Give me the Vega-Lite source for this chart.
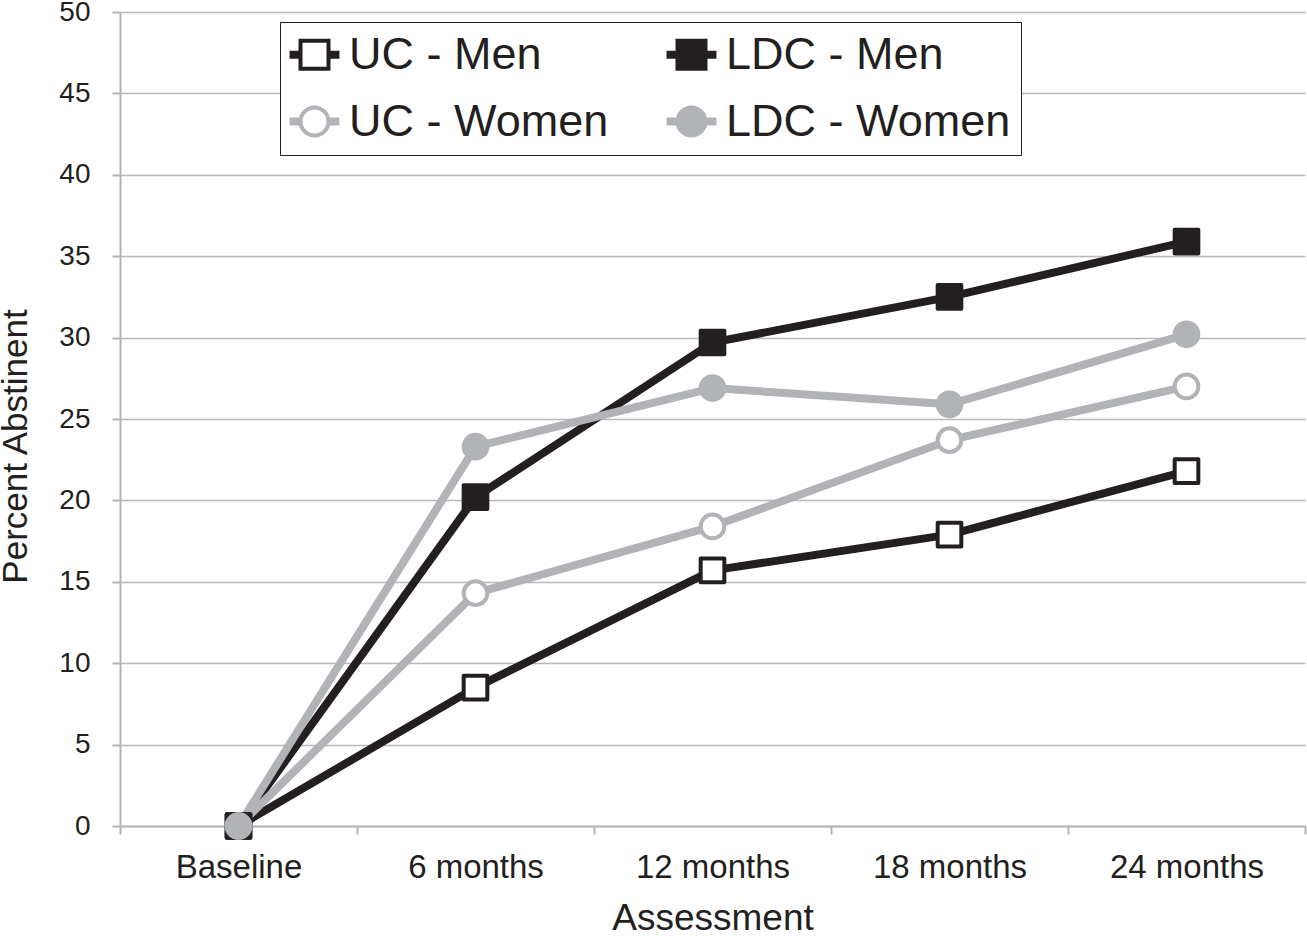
{
  "$schema": "https://vega.github.io/schema/vega-lite/v6.json",
  "width": 1185,
  "height": 814,
  "autosize": {"type": "none"},
  "padding": {"left": 120, "top": 12, "right": 2, "bottom": 110},
  "background": "white",
  "config": {
    "view": {"stroke": null},
    "font": "Liberation Sans",
    "axis": {
      "domainColor": "#b3b3b3",
      "domainWidth": 2,
      "tickColor": "#b3b3b3",
      "tickWidth": 2,
      "tickSize": 8,
      "gridColor": "#b8b8b8",
      "gridWidth": 1.5,
      "labelColor": "#231f20",
      "titleColor": "#231f20",
      "titleFontWeight": "normal",
      "labelFont": "Liberation Sans",
      "titleFont": "Liberation Sans"
    },
    "legend": {
      "orient": "none", "legendX": 160, "legendY": 10, "direction": "horizontal",
      "columns": 2, "columnPadding": 51, "rowPadding": 21, "padding": 10,
      "symbolSize": 784, "symbolStrokeWidth": 4, "symbolOffset": 2, "labelOffset": 12,
      "labelFontSize": 45, "labelColor": "#231f20", "labelFont": "Liberation Sans", "labelLimit": 500,
      "fillColor": "white", "strokeColor": "#231f20"
    }
  },
  "data": {
    "values": [
      {"series": "UC - Men", "assessment": "Baseline", "value": 0},
      {"series": "UC - Men", "assessment": "6 months", "value": 8.5},
      {"series": "UC - Men", "assessment": "12 months", "value": 15.7},
      {"series": "UC - Men", "assessment": "18 months", "value": 17.9},
      {"series": "UC - Men", "assessment": "24 months", "value": 21.8},
      {"series": "LDC - Men", "assessment": "Baseline", "value": 0},
      {"series": "LDC - Men", "assessment": "6 months", "value": 20.2},
      {"series": "LDC - Men", "assessment": "12 months", "value": 29.7},
      {"series": "LDC - Men", "assessment": "18 months", "value": 32.5},
      {"series": "LDC - Men", "assessment": "24 months", "value": 35.9},
      {"series": "UC - Women", "assessment": "Baseline", "value": 0},
      {"series": "UC - Women", "assessment": "6 months", "value": 14.3},
      {"series": "UC - Women", "assessment": "12 months", "value": 18.4},
      {"series": "UC - Women", "assessment": "18 months", "value": 23.7},
      {"series": "UC - Women", "assessment": "24 months", "value": 27.0},
      {"series": "LDC - Women", "assessment": "Baseline", "value": 0},
      {"series": "LDC - Women", "assessment": "6 months", "value": 23.3},
      {"series": "LDC - Women", "assessment": "12 months", "value": 26.9},
      {"series": "LDC - Women", "assessment": "18 months", "value": 25.9},
      {"series": "LDC - Women", "assessment": "24 months", "value": 30.2}
    ]
  },
  "encoding": {
    "x": {
      "field": "assessment",
      "type": "nominal",
      "sort": ["Baseline", "6 months", "12 months", "18 months", "24 months"],
      "scale": {"type": "band", "paddingInner": 0, "paddingOuter": 0},
      "axis": {
        "title": "Assessment",
        "titleFontSize": 37,
        "titleBaseline": "alphabetic",
        "titleY": 103,
        "labelAngle": 0,
        "labelFontSize": 33,
        "labelBaseline": "alphabetic",
        "labelPadding": 43,
        "tickBand": "extent",
        "grid": false
      }
    },
    "y": {
      "field": "value",
      "type": "quantitative",
      "scale": {"domain": [0, 50], "nice": false},
      "axis": {
        "title": "Percent Abstinent",
        "titleFontSize": 35,
        "titleBaseline": "alphabetic",
        "titleX": -94,
        "titleY": 434,
        "values": [0, 5, 10, 15, 20, 25, 30, 35, 40, 45, 50],
        "labelFontSize": 28,
        "labelPadding": 22,
        "grid": true
      }
    }
  },
  "resolve": {"scale": {"shape": "independent", "fill": "independent", "stroke": "independent"}},
  "layer": [
    {
      "mark": {"type": "line", "strokeWidth": 8, "strokeJoin": "round"},
      "encoding": {
        "color": {
          "field": "series",
          "type": "nominal",
          "scale": {
            "domain": ["LDC - Men", "UC - Men", "LDC - Women", "UC - Women"],
            "range": ["#231f20", "#231f20", "#b1b3b6", "#b1b3b6"]
          },
          "legend": null
        }
      }
    },
    {
      "mark": {"type": "point", "opacity": 1, "strokeWidth": 4, "size": 560, "strokeJoin": "round"},
      "encoding": {
        "shape": {
          "field": "series",
          "type": "nominal",
          "scale": {
            "domain": ["LDC - Men", "UC - Men", "LDC - Women", "UC - Women"],
            "range": ["square", "square", "circle", "circle"]
          },
          "legend": null
        },
        "fill": {
          "field": "series",
          "type": "nominal",
          "scale": {
            "domain": ["LDC - Men", "UC - Men", "LDC - Women", "UC - Women"],
            "range": ["#231f20", "#ffffff", "#b1b3b6", "#ffffff"]
          },
          "legend": null
        },
        "stroke": {
          "field": "series",
          "type": "nominal",
          "scale": {
            "domain": ["LDC - Men", "UC - Men", "LDC - Women", "UC - Women"],
            "range": ["#231f20", "#231f20", "#b1b3b6", "#b1b3b6"]
          },
          "legend": null
        }
      }
    },
    {
      "transform": [{"filter": "datum.value < 0"}],
      "mark": {"type": "point", "opacity": 1, "strokeWidth": 4, "size": 784, "strokeJoin": "round"},
      "encoding": {
        "shape": {
          "field": "series",
          "type": "nominal",
          "scale": {
            "domain": ["UC - Men", "LDC - Men", "UC - Women", "LDC - Women"],
            "range": [
              "M-1,-1H1V1H-1ZM1,-0.14H1.64V0.14H1ZM-1,-0.14H-1.64V0.14H-1Z",
              "M-1,-1H1V1H-1ZM1,-0.14H1.64V0.14H1ZM-1,-0.14H-1.64V0.14H-1Z",
              "M1,0A1,1,0,1,1,-1,0A1,1,0,1,1,1,0ZM1,-0.14H1.64V0.14H1ZM-1,-0.14H-1.64V0.14H-1Z",
              "M1,0A1,1,0,1,1,-1,0A1,1,0,1,1,1,0ZM1,-0.14H1.64V0.14H1ZM-1,-0.14H-1.64V0.14H-1Z"
            ]
          },
          "legend": {"title": null}
        },
        "fill": {
          "field": "series",
          "type": "nominal",
          "scale": {
            "domain": ["UC - Men", "LDC - Men", "UC - Women", "LDC - Women"],
            "range": ["#ffffff", "#231f20", "#ffffff", "#b1b3b6"]
          },
          "legend": {"title": null}
        },
        "stroke": {
          "field": "series",
          "type": "nominal",
          "scale": {
            "domain": ["UC - Men", "LDC - Men", "UC - Women", "LDC - Women"],
            "range": ["#231f20", "#231f20", "#b1b3b6", "#b1b3b6"]
          },
          "legend": {"title": null}
        }
      }
    }
  ]
}
